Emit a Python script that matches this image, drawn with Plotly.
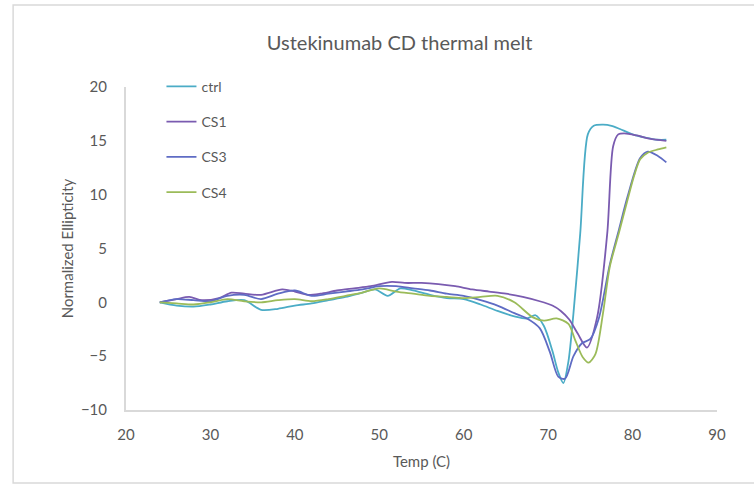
import plotly.graph_objects as go

# CD thermal melt curves (normalized ellipticity vs temperature)
ctrl_t = [24, 26, 28, 30, 32, 34, 36, 38, 40, 42, 44, 46, 48, 49.5, 51, 52.5, 54, 56, 58, 60,
          62, 64, 66, 67.5, 68.5, 69.5, 70.5, 71.2, 71.8, 72.4, 73, 73.8, 74.7, 75.4, 76.5,
          77.5, 78.5, 80, 81.5, 83, 84]
ctrl_y = [0, -0.3, -0.4, -0.2, 0.1, 0.2, -0.7, -0.6, -0.3, -0.1, 0.2, 0.5, 0.9, 1.2, 0.6, 1.3,
          1.1, 0.7, 0.4, 0.3, -0.2, -0.8, -1.3, -1.5, -1.2, -2.2, -4.5, -6.5, -7.5, -5.5, -1.0,
          6.4, 15.6, 16.4, 16.5, 16.4, 16.1, 15.6, 15.3, 15.1, 15.1]

cs1_t = [24, 26, 27.5, 29, 31, 32.5, 34, 36, 38.5, 40, 41.5, 43, 45, 47, 49, 51.5, 53, 55, 57,
         59, 61, 63, 65, 67, 69, 70.5, 71.5, 72.5, 73.5, 74.6, 75.8, 77, 77.7, 78.3, 79, 80.5,
         82, 84]
cs1_y = [0, 0.3, 0.5, 0.2, 0.4, 0.9, 0.8, 0.7, 1.2, 1.0, 0.7, 0.8, 1.1, 1.3, 1.5, 1.9, 1.8,
         1.8, 1.7, 1.5, 1.2, 1.0, 0.8, 0.5, 0.1, -0.3, -0.8, -1.6, -2.9, -4.2, -1.4, 6.4, 14.5,
         15.6, 15.7, 15.5, 15.2, 15.0]

cs3_t = [24, 26, 28, 30, 32, 34, 36, 38, 40, 42, 44, 46, 48, 50, 52, 54, 56, 58, 60, 62, 64,
         66, 67.5, 69, 70.2, 71.2, 72, 73, 74, 75, 76, 77.3, 78.4, 79.4, 80.9, 81.8, 83, 84]
cs3_y = [0, 0.3, 0.2, 0.1, 0.6, 0.7, 0.3, 0.8, 1.1, 0.6, 0.8, 1.0, 1.2, 1.5, 1.5, 1.3, 1.1,
         0.8, 0.6, 0.2, -0.3, -1.0, -1.5, -2.4, -4.6, -6.9, -7.1, -5.0, -3.8, -3.4, -1.5, 3.5,
         6.8, 9.8, 13.4, 14.0, 13.6, 13.0]

cs4_t = [24, 26, 28, 30, 32, 34, 36, 38, 40, 42, 44, 46, 48, 50, 52, 54, 56, 58, 60, 62, 64,
         66, 68.2, 69.5, 71, 72.4, 73.2, 74.1, 74.8, 75.6, 76.5, 77.3, 78.4, 79.4, 80.2, 80.9,
         81.8, 83, 84]
cs4_y = [0, -0.1, -0.2, 0.0, 0.3, 0.1, 0.0, 0.2, 0.3, 0.1, 0.3, 0.6, 0.9, 1.3, 1.0, 0.8, 0.6,
         0.5, 0.4, 0.5, 0.6, 0.0, -1.4, -1.7, -1.5, -2.0, -3.5, -5.1, -5.6, -4.8, -1.0, 3.3,
         6.5, 9.5, 11.8, 13.3, 13.9, 14.2, 14.4]

series = [
    ("ctrl", ctrl_t, ctrl_y, "#4BACC6"),
    ("CS1", cs1_t, cs1_y, "#7A5BB0"),
    ("CS3", cs3_t, cs3_y, "#5F6CC4"),
    ("CS4", cs4_t, cs4_y, "#9BBB59"),
]

x_ticks = [20, 30, 40, 50, 60, 70, 80, 90]
y_ticks = [-10, -5, 0, 5, 10, 15, 20]

FONT = "Lato"
GREY = "#595959"

fig = go.Figure()
for name, t, y, color in series:
    fig.add_trace(go.Scatter(
        x=t, y=y, name=name, mode="lines", legendgroup=name,
        line=dict(color=color, width=1.8, shape="spline", smoothing=0.8),
    ))

fig.update_layout(
    width=754, height=488,
    margin=dict(l=126, r=37, t=87, b=78),
    paper_bgcolor="white", plot_bgcolor="white",
    font=dict(family=FONT, color=GREY, size=15),
    title=dict(text="Ustekinumab CD thermal melt", x=0.53, xanchor="center",
               y=0.912, yanchor="middle", font=dict(size=20, color=GREY, family=FONT)),
    showlegend=True,
    legend=dict(x=0.06, y=1.05, xanchor="left", yanchor="top",
                bgcolor="rgba(0,0,0,0)", font=dict(size=14, color=GREY),
                tracegroupgap=14, itemwidth=30),
    xaxis=dict(range=[20, 90], tickvals=x_ticks, showgrid=False, zeroline=False,
               showline=True, linecolor="#D9D9D9", linewidth=2, ticks="",
               ticklabelstandoff=10, tickfont=dict(size=15, color=GREY),
               title=dict(text="Temp (C)", font=dict(size=15, color=GREY), standoff=14)),
    yaxis=dict(range=[-10, 20], tickvals=y_ticks, showgrid=False, zeroline=False,
               showline=True, linecolor="#D9D9D9", linewidth=2, ticks="",
               ticklabelstandoff=14, tickfont=dict(size=15, color=GREY),
               title=dict(text="Normalized Ellipticity", font=dict(size=15, color=GREY),
                          standoff=4)),
    shapes=[dict(type="rect", xref="paper", yref="paper",
                 x0=-0.191, x1=1.1, y0=-0.226, y1=1.254,
                 line=dict(color="#D9D9D9", width=1.5), layer="below")],
)

fig.write_html("out.html")
